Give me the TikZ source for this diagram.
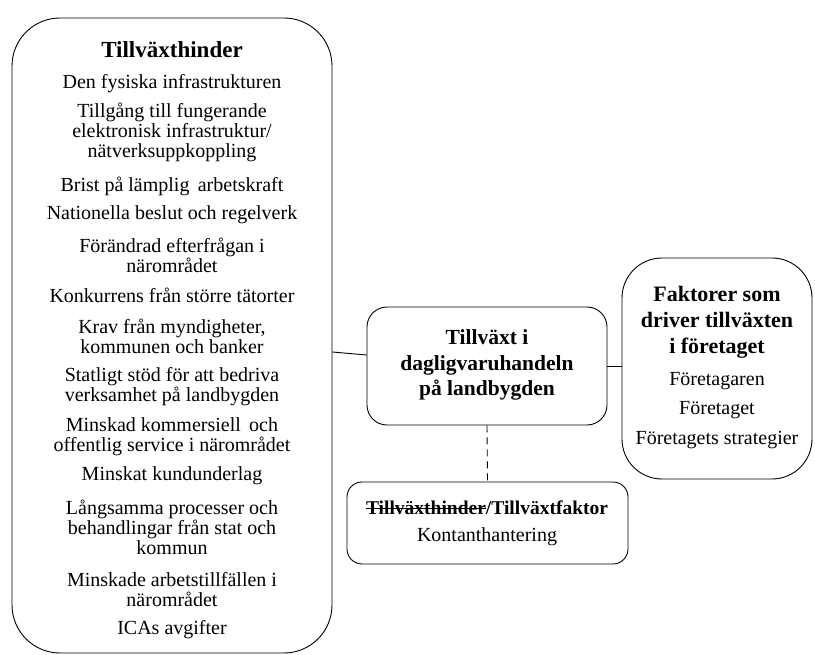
\documentclass[tikz,border=0pt]{standalone}
\usepackage{fontspec}
\setmainfont{Liberation Serif}
\newcommand\mystrike[1]{\setbox0\hbox{#1}\rlap{\rule[0.3em]{\wd0}{0.8pt}}\box0}
\begin{document}
\begin{tikzpicture}[x=1pt,y=-1pt,
  box/.style={draw,line width=0.9pt,inner sep=0pt},
  txt/.style={inner sep=0pt,align=center,font=\fontsize{20}{20}\selectfont},
  head/.style={inner sep=0pt,align=center,font=\fontsize{21}{25.5}\selectfont\bfseries}]
\useasboundingbox (0,0) rectangle (815,655);
% boxes
\node[box,rounded corners=48pt,minimum width=320pt,minimum height=635pt] (left) at (172,335.5) {};
\node[box,rounded corners=20pt,minimum width=240pt,minimum height=118pt] (mid) at (487,366) {};
\node[box,rounded corners=40pt,minimum width=190pt,minimum height=221pt] (right) at (717,368.5) {};
\node[box,rounded corners=15pt,minimum width=281pt,minimum height=82pt] (bot) at (487.5,523) {};
% connectors
\draw[line width=0.9pt] ([yshift=-16.5pt]left.east) -- ([yshift=11pt]mid.west);
\draw[line width=0.9pt] (mid.east) -- (mid.east -| right.west);
\draw[line width=0.9pt,dashed,dash pattern=on 7pt off 5pt] (mid.south) -- (bot.north);
% left texts
\node[head,font=\fontsize{23}{26}\selectfont\bfseries] (lt) at (172,50) {Tillväxthinder};
\node[txt] (l1) at (172,84) {Den fysiska infrastrukturen};
\node[txt] (l2) at (172,132) {Tillgång till fungerande\\elektronisk infrastruktur/\\nätverksuppkoppling};
\node[txt] (l3) at (172,186) {Brist på lämplig\, arbetskraft};
\node[txt] (l4) at (172,215) {Nationella beslut och regelverk};
\node[txt] (l5) at (172,255) {Förändrad efterfrågan i\\närområdet};
\node[txt] (l6) at (172,295) {Konkurrens från större tätorter};
\node[txt] (l7) at (172,336) {Krav från myndigheter,\\kommunen och banker};
\node[txt] (l8) at (172,387) {Statligt stöd för att bedriva\\verksamhet på landbygden};
\node[txt] (l9) at (172,437) {Minskad kommersiell\, och\\offentlig service i närområdet};
\node[txt] (l10) at (172,476) {Minskat kundunderlag};
\node[txt] (l11) at (172,527) {Långsamma processer och\\behandlingar från stat och\\kommun};
\node[txt] (l12) at (172,590) {Minskade arbetstillfällen i\\närområdet};
\node[txt] (l13) at (172,630) {ICAs avgifter};
% middle texts
\node[head,font=\fontsize{21.5}{25.5}\selectfont\bfseries] (mt) at (487,365) {Tillväxt i\\dagligvaruhandeln\\på landbygden};
% right texts
\node[head,font=\fontsize{22}{26}\selectfont\bfseries] (rt) at (717,322) {Faktorer som\\driver tillväxten\\i företaget};
\node[txt] (r1) at (717,381) {Företagaren};
\node[txt] (r2) at (717,410) {Företaget};
\node[txt] (r3) at (717,440) {Företagets strategier};
% bottom texts
\node[txt,font=\fontsize{19.5}{20}\selectfont\bfseries] (bt) at (487,508) {\mystrike{Tillväxthinder}/Tillväxtfaktor};
\node[txt] (b1) at (487,537) {Kontanthantering};
\end{tikzpicture}
\end{document}
